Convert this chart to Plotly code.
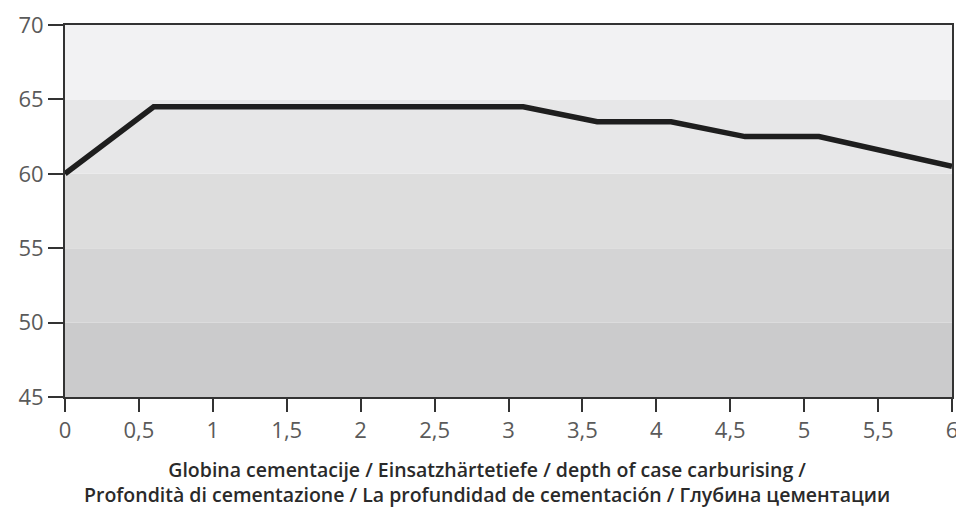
import plotly.graph_objects as go

depth = [0, 0.6, 3.1, 3.6, 4.1, 4.6, 5.1, 6.0]
hardness = [60, 64.5, 64.5, 63.5, 63.5, 62.5, 62.5, 60.5]

x_ticks = [0, 0.5, 1, 1.5, 2, 2.5, 3, 3.5, 4, 4.5, 5, 5.5, 6]
x_tick_labels = ["0", "0,5", "1", "1,5", "2", "2,5", "3", "3,5", "4", "4,5", "5", "5,5", "6"]
y_ticks = [45, 50, 55, 60, 65, 70]

band_edges = [45, 50, 55, 60, 65, 70]
band_colors = ["#cbcbcc", "#d4d4d5", "#dddddd", "#e7e7e8", "#f2f2f3"]

x_title = ("Globina cementacije / Einsatzhärtetiefe / depth of case carburising /<br>"
           "Profondità di cementazione / La profundidad de cementación / Глубина цементации")

fig = go.Figure()
fig.add_trace(go.Scatter(x=depth, y=hardness, mode="lines",
                         line=dict(color="#1e1e1e", width=5.5), showlegend=False))

for i, c in enumerate(band_colors):
    fig.add_shape(type="rect", xref="paper", yref="y", x0=0, x1=1,
                  y0=band_edges[i], y1=band_edges[i + 1],
                  fillcolor=c, line=dict(width=0), layer="below")

fig.add_annotation(text=x_title, xref="paper", yref="paper", x=0.476, y=-0.2285,
                   xanchor="center", yanchor="middle", showarrow=False, align="center",
                   font=dict(size=19.5, color="#2a2a2a", family="Open Sans", weight=600))

# page body has an 8px margin, so the figure is offset by 8px right/down
fig.update_layout(
    width=956, height=505,
    margin=dict(l=57, r=12, t=17, b=116),
    paper_bgcolor="white", plot_bgcolor="white",
    font=dict(family="Open Sans", color="#5a5a5a"),
    xaxis=dict(range=[0, 6], tickvals=x_ticks, ticktext=x_tick_labels,
               ticks="outside", ticklen=13, tickwidth=2, tickcolor="#333333",
               showline=True, linecolor="#333333", linewidth=2, mirror=True,
               showgrid=False, zeroline=False, automargin=False,
               tickfont=dict(size=22, color="#5a5a5a")),
    yaxis=dict(range=[45, 70], tickvals=y_ticks,
               ticks="outside", ticklen=15, tickwidth=2, tickcolor="#333333",
               showline=True, linecolor="#333333", linewidth=2, mirror=True,
               showgrid=False, zeroline=False, automargin=False,
               tickfont=dict(size=22, color="#5a5a5a")),
)

fig.write_html("out.html")
